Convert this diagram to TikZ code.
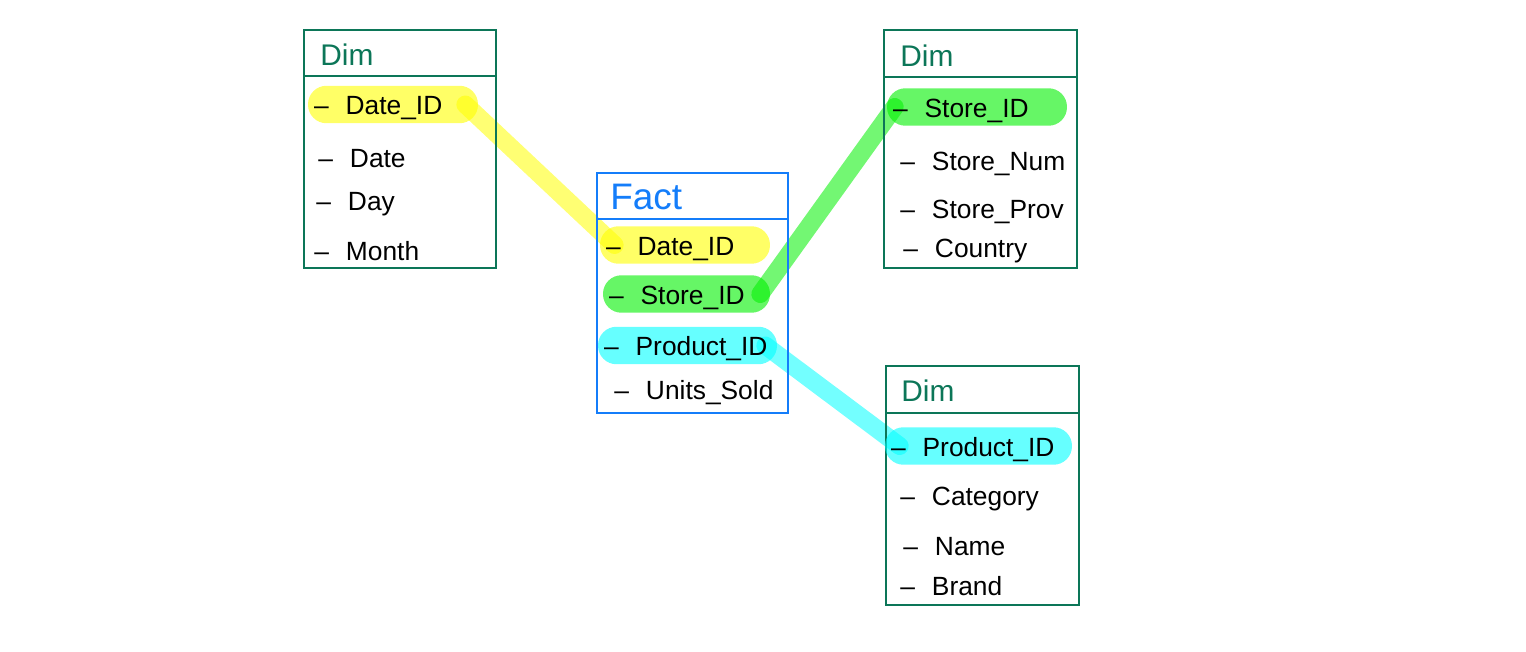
\documentclass[tikz,border=0pt]{standalone}
\usepackage{fontspec}
\setmainfont{Liberation Sans}
\usetikzlibrary{backgrounds}

\definecolor{dimgreen}{RGB}{12,118,88}
\definecolor{factblue}{RGB}{20,125,250}
\definecolor{hlyellow}{RGB}{255,255,0}
\definecolor{hlgreen}{RGB}{0,240,0}
\definecolor{hlcyan}{RGB}{0,255,255}

\newcommand{\fld}[1]{\textendash\hspace{0.34cm}#1}

\tikzset{
    dimbox/.style={draw=dimgreen, line width=1.2pt},
    factbox/.style={draw=factblue, line width=1.2pt},
    title/.style={anchor=west, inner sep=0pt, font=\fontsize{17}{20}\selectfont},
    field/.style={anchor=west, inner sep=0pt, font=\fontsize{15}{18}\selectfont},
    key/.style 2 args={fill=#1, fill opacity=0.6, text opacity=1,
        rounded corners=0.37cm, minimum height=0.75cm, inner xsep=0.12cm,
        inner ysep=0.08cm, text height=0.48cm, text depth=0.06cm,
        text width=#2, align=left, font=\fontsize{15}{18}\selectfont,
        execute at begin node={\hyphenpenalty=10000}},
    link/.style={draw=#1, opacity=0.55, line width=0.36cm, line cap=round}
}

\begin{document}
\begin{tikzpicture}[x=0.02cm, y=-0.02cm]

        \useasboundingbox (0,0) rectangle (1526,652);

        % Date dimension
        \draw[dimbox] (304,30) rectangle (496,268);
        \draw[dimbox] (304,76) -- (496,76);
        \node[title, text=dimgreen] (dtitle) at (320,55) {Dim};
        \node[key={hlyellow}{3.16cm}] (dkey) at (393,104.5) {\fld{Date\_ID}};
        \foreach \n/\t/\x/\y in {ddate/Date/318/159, dday/Day/316/204, dmonth/Month/314/251} {
            \node[field] (\n) at (\x,\y) {\fld{\t}};
        }

        % Fact table
        \draw[factbox] (597,173) rectangle (788,413);
        \draw[factbox] (597,219) -- (788,219);
        \node[title, text=factblue, font=\fontsize{21}{24}\selectfont] (ftitle) at (610,197) {Fact};
        \node[key={hlyellow}{3.16cm}] (fdate) at (685,245) {\fld{Date\_ID}};
        \node[key={hlgreen}{3.10cm}] (fstore) at (686.5,294) {\fld{Store\_ID}};
        \node[key={hlcyan}{3.34cm}] (fprod) at (687.5,345.5) {\fld{Product\_ID}};
        \node[field] (funits) at (614,393) {\fld{Units\_Sold}};

        % Store dimension
        \draw[dimbox] (884,30) rectangle (1077,268);
        \draw[dimbox] (884,77) -- (1077,77);
        \node[title, text=dimgreen] (stitle) at (900,56) {Dim};
        \node[key={hlgreen}{3.36cm}] (skey) at (977,107) {\fld{Store\_ID}};
        \foreach \n/\t/\x/\y in {snum/Store\_Num/900/164, sprov/Store\_Prov/900/212, scountry/Country/903/251} {
            \node[field] (\n) at (\x,\y) {\fld{\t}};
        }

        % Product dimension
        \draw[dimbox] (886,366) rectangle (1079,605);
        \draw[dimbox] (886,413) -- (1079,413);
        \node[title, text=dimgreen] (ptitle) at (901,391) {Dim};
        \node[key={hlcyan}{3.50cm}] (pkey) at (978.5,446) {\fld{Product\_ID}};
        \foreach \n/\t/\x/\y in {pcat/Category/900/499, pname/Name/903/547, pbrand/Brand/900/586} {
            \node[field] (\n) at (\x,\y) {\fld{\t}};
        }

        % Links
        \begin{pgfonlayer}{background}
            \draw[link=hlyellow] ([xshift=-0.26cm]dkey.east) -- ([xshift=0.3cm]fdate.west);
            \draw[link=hlgreen] ([xshift=-0.2cm]fstore.east) -- ([xshift=0.16cm]skey.west);
            \draw[link=hlcyan] ([xshift=-0.24cm]fprod.east) -- ([xshift=0.3cm]pkey.west);
        \end{pgfonlayer}

    \end{tikzpicture}
\end{document}
